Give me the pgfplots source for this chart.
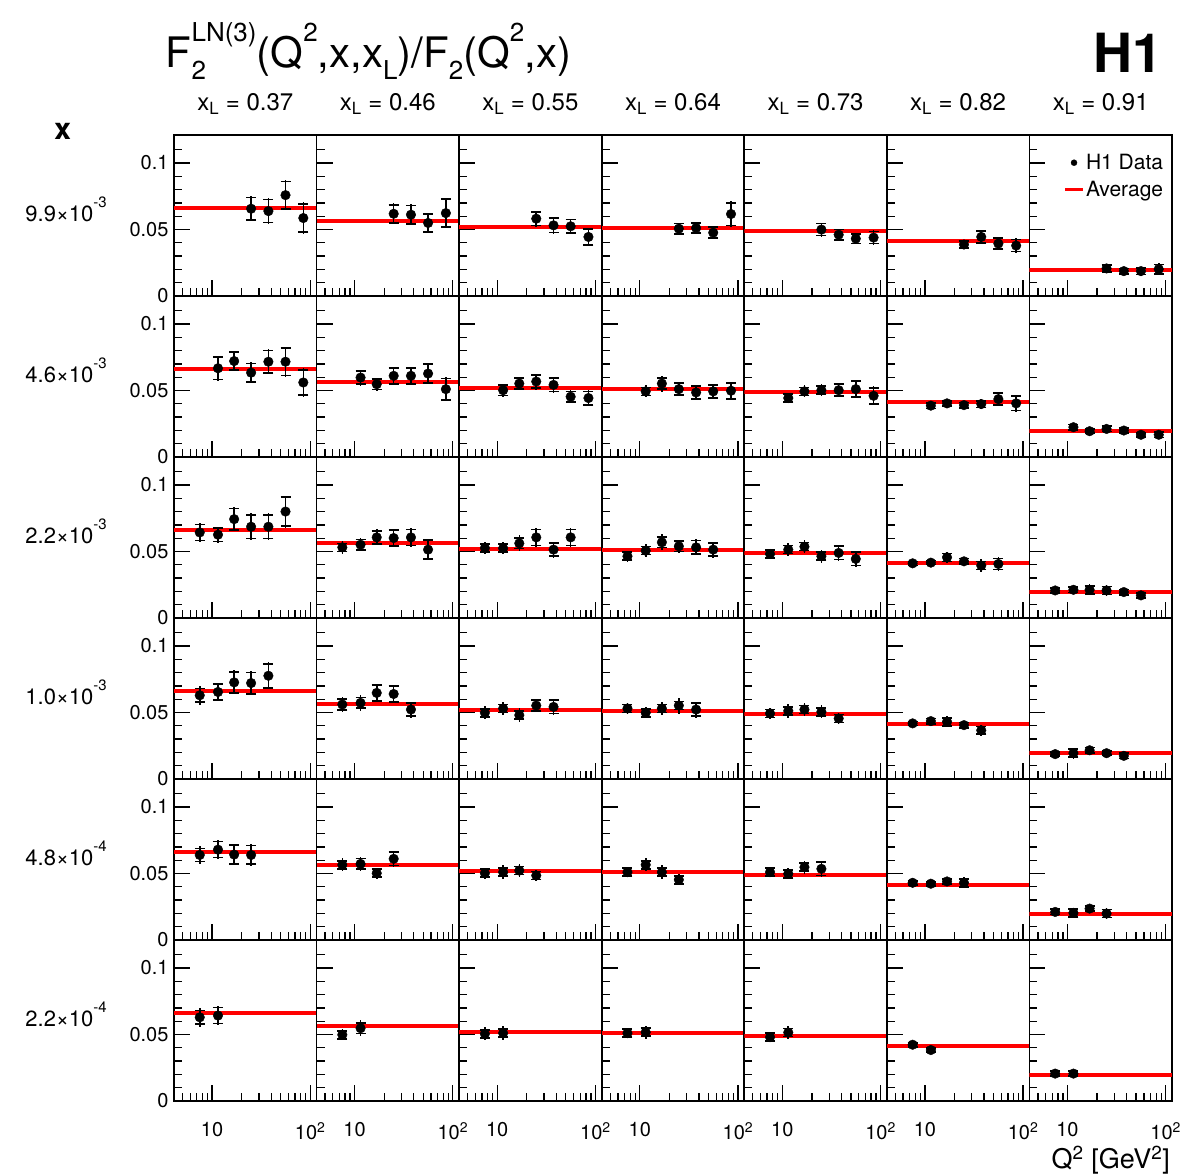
\documentclass[border=0pt]{standalone}
\usepackage{pgfplots}
\pgfplotsset{compat=1.18}
\usepgfplotslibrary{groupplots}
\usepackage{fontspec}
\setmainfont{TeX Gyre Heros}

\newcommand{\fs}[1]{\fontsize{#1}{#1}\selectfont}
\newcommand{\tsup}[1]{\raisebox{0.62em}{\fs{26}#1}}
\newcommand{\tsub}[1]{\raisebox{-0.28em}{\fs{26}#1}}
\newcommand{\rsup}[1]{\raisebox{0.62em}{\fs{15}#1}}
% #1 average, #2 data rows: Q2 value stat-err total-err
\newcommand{\panel}[2]{%
  \addplot[red, line width=4pt, forget plot] coordinates {(4.1,#1) (116,#1)};
  \addplot[forget plot, only marks, mark=none, black,
    error bars/.cd, y dir=both, y explicit, error mark=none,
    error bar style={line width=1.6pt, black}]
    table[row sep=\\, x=q, y=y, y error=t] {q y s t\\ #2};
  \addplot[forget plot, only marks, mark=none, black,
    error bars/.cd, y dir=both, y explicit, error mark=-,
    error bar style={line width=1.6pt, black},
    error mark options={rotate=90, mark size=5pt, line width=1.6pt, black}]
    table[row sep=\\, x=q, y=y, y error=s] {q y s t\\ #2};
  \addplot[forget plot, only marks, mark=*, mark size=4.8pt, black]
    table[row sep=\\, x=q, y=y] {q y s t\\ #2};
}
\newcommand{\rowlab}[1]{\node[font=\fs{22}, inner sep=0pt] at (rel axis cs:-0.757,0.54) {#1};}
\newcommand{\collab}[1]{\node[font=\fs{24}, inner sep=0pt, yshift=31pt] at (rel axis cs:0.5,1) {x\textsubscript{L} = #1};}

\begin{document}
\begin{tikzpicture}
\begin{groupplot}[
  group style={group size=7 by 6, horizontal sep=0pt, vertical sep=0pt,
    xticklabels at=edge bottom, yticklabels at=edge left},
  width=142.57pt, height=161pt, scale only axis, clip mode=individual,
  xmode=log, xmin=4.1, xmax=116, ymin=0, ymax=0.121,
  xtick={10,100}, xticklabels={10,10\textsuperscript{2}},
  minor xtick={5,6,7,8,9,20,30,40,50,60,70,80,90},
  ytick={0,0.05,0.1}, yticklabels={0,0.05,0.1},
  minor ytick={0.01,0.02,0.03,0.04,0.06,0.07,0.08,0.09,0.11},
  xtick pos=bottom, ytick pos=left, tick align=inside,
  major tick length=16pt, minor tick length=8pt,
  tick style={line width=1.3pt, black},
  axis line style={line width=1.6pt},
  yticklabel style={font=\fs{20}, xshift=-2pt},
  xticklabel style={font=\fs{20}, yshift=-18pt},
]
% ---------------- row 1: x = 9.9e-3
\nextgroupplot
\coordinate (TL) at (rel axis cs:0,1);
\rowlab{9.9×10\rsup{-3}}
\collab{0.37}
\node[font=\bfseries\fs{30}] at (rel axis cs:-0.78,1.02) {x};
\node[font=\fs{42}, anchor=base west, inner sep=0pt] at (rel axis cs:-0.058,1.42)
  {F\rlap{\tsub{2}}\tsup{LN(3)}(Q\tsup{2},x,x\tsub{L})/F\tsub{2}(Q\tsup{2},x)};
\panel{0.066}{25 0.0656 0.0084 0.0095\\ 37.5 0.0638 0.0086 0.0098\\ 56 0.0758 0.0103 0.0115\\ 85 0.0586 0.0105 0.0118\\}
\nextgroupplot
\collab{0.46}
\panel{0.0565}{25 0.0618 0.0068 0.0078\\ 37.5 0.0611 0.0068 0.0078\\ 56 0.0549 0.0066 0.0076\\ 85 0.0623 0.0105 0.0115\\}
\nextgroupplot
\collab{0.55}
\panel{0.052}{25 0.0581 0.0052 0.006\\ 37.5 0.0531 0.0055 0.0063\\ 56 0.0524 0.005 0.0058\\ 85 0.0444 0.006 0.0068\\}
\nextgroupplot
\collab{0.64}
\panel{0.0512}{25 0.0506 0.0038 0.0045\\ 37.5 0.0511 0.0038 0.0045\\ 56 0.0476 0.0042 0.005\\ 85 0.0616 0.0085 0.0095\\}
\nextgroupplot
\collab{0.73}
\panel{0.049}{25 0.0499 0.0045 0.0052\\ 37.5 0.0461 0.0038 0.0045\\ 56 0.0431 0.0035 0.0042\\ 85 0.0439 0.0045 0.0055\\}
\nextgroupplot
\collab{0.82}
\panel{0.041}{25 0.0387 0.0025 0.0035\\ 37.5 0.0444 0.0045 0.0052\\ 56 0.0394 0.004 0.0047\\ 85 0.0379 0.0045 0.0055\\}
\nextgroupplot[legend style={at={(0.96,0.90)}, anchor=north east, draw=none, fill=none,
  font=\fs{21}, inner sep=1pt, row sep=6pt}, legend cell align=left]
\collab{0.91}
\node[font=\bfseries\fs{54}, anchor=base east, inner sep=0pt] at (rel axis cs:0.937,1.39) {H1};
\addlegendimage{only marks, mark=*, mark size=3pt, black}
\addlegendentry{H1 Data}
\addlegendimage{red, line width=3pt}
\addlegendentry{Average}
\panel{0.0197}{25 0.0207 0.0025 0.0033\\ 37.5 0.0187 0.002 0.0028\\ 56 0.0187 0.0025 0.0033\\ 85 0.0202 0.0035 0.0044\\}
% ---------------- row 2: x = 4.6e-3
\nextgroupplot
\rowlab{4.6×10\rsup{-3}}
\panel{0.066}{11.5 0.0667 0.0085 0.0095\\ 16.8 0.0721 0.0066 0.0076\\ 25 0.0634 0.007 0.008\\ 37.5 0.0716 0.0085 0.0095\\ 56 0.0716 0.0103 0.0113\\ 85 0.056 0.0096 0.0106\\}
\nextgroupplot
\panel{0.0565}{11.5 0.0597 0.005 0.006\\ 16.8 0.0547 0.004 0.0048\\ 25 0.061 0.006 0.007\\ 37.5 0.061 0.006 0.007\\ 56 0.0627 0.007 0.008\\ 85 0.051 0.008 0.009\\}
\nextgroupplot
\panel{0.052}{11.5 0.0502 0.004 0.005\\ 16.8 0.0552 0.004 0.0048\\ 25 0.0567 0.005 0.006\\ 37.5 0.0542 0.005 0.006\\ 56 0.0453 0.004 0.005\\ 85 0.0443 0.005 0.006\\}
\nextgroupplot
\panel{0.0512}{11.5 0.0493 0.003 0.0045\\ 16.8 0.0552 0.004 0.006\\ 25 0.051 0.0045 0.0052\\ 37.5 0.0485 0.005 0.0058\\ 56 0.0493 0.005 0.0058\\ 85 0.0498 0.006 0.0068\\}
\nextgroupplot
\panel{0.049}{11.5 0.0443 0.003 0.004\\ 16.8 0.0493 0.003 0.0045\\ 25 0.0502 0.003 0.0045\\ 37.5 0.0502 0.0045 0.0052\\ 56 0.051 0.006 0.0068\\ 85 0.046 0.006 0.0072\\}
\nextgroupplot
\panel{0.041}{11.5 0.0386 0.002 0.003\\ 16.8 0.0403 0.002 0.0033\\ 25 0.039 0.002 0.0033\\ 37.5 0.0398 0.0025 0.0035\\ 56 0.0435 0.0045 0.0055\\ 85 0.0403 0.0055 0.0063\\}
\nextgroupplot
\panel{0.0197}{11.5 0.0224 0.002 0.003\\ 16.8 0.0194 0.0015 0.0022\\ 25 0.0211 0.002 0.003\\ 37.5 0.0199 0.002 0.003\\ 56 0.0167 0.0015 0.002\\ 85 0.0167 0.002 0.003\\}
% ---------------- row 3: x = 2.2e-3
\nextgroupplot
\rowlab{2.2×10\rsup{-3}}
\panel{0.066}{7.5 0.0643 0.006 0.007\\ 11.5 0.0626 0.005 0.006\\ 16.8 0.0743 0.008 0.009\\ 25 0.0686 0.009 0.01\\ 37.5 0.0686 0.009 0.01\\ 56 0.080 0.011 0.012\\}
\nextgroupplot
\panel{0.0565}{7.5 0.0531 0.003 0.005\\ 11.5 0.0551 0.004 0.005\\ 16.8 0.0606 0.005 0.006\\ 25 0.0601 0.006 0.007\\ 37.5 0.0606 0.006 0.007\\ 56 0.0514 0.007 0.008\\}
\nextgroupplot
\panel{0.052}{7.5 0.0526 0.003 0.0045\\ 11.5 0.0524 0.003 0.0045\\ 16.8 0.0561 0.004 0.006\\ 25 0.0606 0.006 0.007\\ 37.5 0.0514 0.005 0.006\\ 56 0.0606 0.006 0.007\\}
\nextgroupplot
\panel{0.0512}{7.5 0.0464 0.003 0.004\\ 11.5 0.0506 0.003 0.005\\ 16.8 0.0569 0.004 0.006\\ 25 0.0539 0.004 0.005\\ 37.5 0.0531 0.005 0.006\\ 56 0.0514 0.005 0.006\\}
\nextgroupplot
\panel{0.049}{7.5 0.0481 0.003 0.004\\ 11.5 0.0514 0.003 0.005\\ 16.8 0.0536 0.003 0.005\\ 25 0.0464 0.003 0.005\\ 37.5 0.0489 0.005 0.006\\ 56 0.0444 0.005 0.006\\}
\nextgroupplot
\panel{0.041}{7.5 0.0411 0.0015 0.0025\\ 11.5 0.0416 0.0015 0.0025\\ 16.8 0.0456 0.003 0.004\\ 25 0.0426 0.002 0.0035\\ 37.5 0.0394 0.003 0.005\\ 56 0.0406 0.004 0.005\\}
\nextgroupplot
\panel{0.0197}{7.5 0.0207 0.002 0.003\\ 11.5 0.0212 0.002 0.003\\ 16.8 0.0212 0.003 0.004\\ 25 0.0207 0.003 0.004\\ 37.5 0.0195 0.002 0.003\\ 56 0.017 0.002 0.003\\}
% ---------------- row 4: x = 1.0e-3
\nextgroupplot
\rowlab{1.0×10\rsup{-3}}
\panel{0.066}{7.5 0.0629 0.005 0.007\\ 11.5 0.0654 0.006 0.007\\ 16.8 0.0726 0.008 0.009\\ 25 0.0721 0.008 0.009\\ 37.5 0.0776 0.009 0.01\\}
\nextgroupplot
\panel{0.0565}{7.5 0.056 0.004 0.006\\ 11.5 0.0572 0.004 0.006\\ 16.8 0.0647 0.006 0.007\\ 25 0.0639 0.006 0.007\\ 37.5 0.0522 0.005 0.006\\}
\nextgroupplot
\panel{0.052}{7.5 0.0498 0.003 0.005\\ 11.5 0.053 0.003 0.005\\ 16.8 0.048 0.003 0.005\\ 25 0.0552 0.004 0.005\\ 37.5 0.0542 0.005 0.006\\}
\nextgroupplot
\panel{0.0512}{7.5 0.053 0.003 0.004\\ 11.5 0.0498 0.003 0.004\\ 16.8 0.053 0.003 0.005\\ 25 0.0552 0.003 0.006\\ 37.5 0.0522 0.005 0.006\\}
\nextgroupplot
\panel{0.049}{7.5 0.0493 0.003 0.004\\ 11.5 0.0512 0.003 0.005\\ 16.8 0.0522 0.003 0.005\\ 25 0.0505 0.003 0.005\\ 37.5 0.0455 0.003 0.004\\}
\nextgroupplot
\panel{0.041}{7.5 0.0418 0.0015 0.0025\\ 11.5 0.0435 0.002 0.003\\ 16.8 0.043 0.003 0.004\\ 25 0.0405 0.002 0.003\\ 37.5 0.0366 0.003 0.004\\}
\nextgroupplot
\panel{0.0197}{7.5 0.0187 0.0015 0.0025\\ 11.5 0.0194 0.003 0.004\\ 16.8 0.0216 0.002 0.003\\ 25 0.0194 0.0015 0.0025\\ 37.5 0.0174 0.002 0.003\\}
% ---------------- row 5: x = 4.8e-4
\nextgroupplot
\rowlab{4.8×10\rsup{-4}}
\panel{0.066}{7.5 0.0639 0.005 0.007\\ 11.5 0.0679 0.006 0.007\\ 16.8 0.0642 0.007 0.008\\ 25 0.0639 0.007 0.008\\}
\nextgroupplot
\panel{0.0565}{7.5 0.0565 0.003 0.005\\ 11.5 0.0572 0.004 0.005\\ 16.8 0.0502 0.003 0.004\\ 25 0.061 0.005 0.006\\}
\nextgroupplot
\panel{0.052}{7.5 0.0502 0.003 0.004\\ 11.5 0.051 0.003 0.005\\ 16.8 0.0522 0.003 0.005\\ 25 0.0485 0.003 0.004\\}
\nextgroupplot
\panel{0.0512}{7.5 0.051 0.003 0.004\\ 11.5 0.0565 0.003 0.005\\ 16.8 0.051 0.003 0.005\\ 25 0.0453 0.003 0.004\\}
\nextgroupplot
\panel{0.049}{7.5 0.051 0.003 0.004\\ 11.5 0.0498 0.003 0.004\\ 16.8 0.0547 0.003 0.005\\ 25 0.0535 0.005 0.006\\}
\nextgroupplot
\panel{0.041}{7.5 0.043 0.0015 0.002\\ 11.5 0.0423 0.0015 0.002\\ 16.8 0.044 0.002 0.003\\ 25 0.043 0.003 0.004\\}
\nextgroupplot
\panel{0.0197}{7.5 0.0211 0.002 0.003\\ 11.5 0.0204 0.003 0.004\\ 16.8 0.0236 0.002 0.003\\ 25 0.0199 0.003 0.004\\}
% ---------------- row 6: x = 2.2e-4
\nextgroupplot
\rowlab{2.2×10\rsup{-4}}
\panel{0.066}{7.5 0.0629 0.005 0.007\\ 11.5 0.0642 0.006 0.007\\}
\nextgroupplot
\panel{0.0565}{7.5 0.0498 0.003 0.004\\ 11.5 0.0547 0.004 0.006\\}
\nextgroupplot
\panel{0.052}{7.5 0.0505 0.003 0.005\\ 11.5 0.051 0.003 0.005\\}
\nextgroupplot
\panel{0.0512}{7.5 0.051 0.003 0.004\\ 11.5 0.0517 0.003 0.005\\}
\nextgroupplot
\panel{0.049}{7.5 0.048 0.003 0.004\\ 11.5 0.0515 0.003 0.005\\}
\nextgroupplot
\panel{0.041}{7.5 0.0423 0.0015 0.002\\ 11.5 0.0383 0.0015 0.002\\}
\nextgroupplot
\node[font=\fs{27}, anchor=base east, inner sep=0pt] at (rel axis cs:0.986,-0.42) {Q\textsuperscript{2} [GeV\textsuperscript{2}]};
\panel{0.0197}{7.5 0.0206 0.002 0.003\\ 11.5 0.0206 0.002 0.003\\}
\end{groupplot}
\pgfresetboundingbox
\path ([shift={(-174pt,135pt)}]TL) rectangle ([shift={(1015pt,-1038pt)}]TL);
\end{tikzpicture}
\end{document}
